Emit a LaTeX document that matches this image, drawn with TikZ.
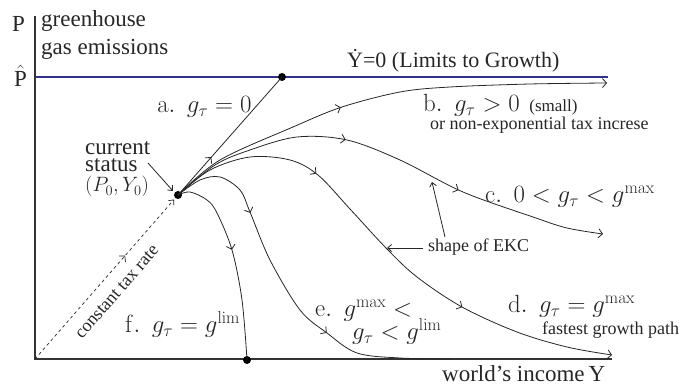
\documentclass[tikz,border=0pt]{standalone}
\usepackage[no-math]{fontspec}
\setmainfont{Liberation Serif}
\usetikzlibrary{decorations.markings,arrows.meta}
\tikzset{
  big/.style={font=\rmfamily\fontsize{23}{25}\selectfont, inner sep=0pt, text=black!85},
  small/.style={font=\rmfamily\fontsize{18}{20}\selectfont, inner sep=0pt, text=black!85},
  dot/.style={circle, fill=black, inner sep=0pt, minimum size=8pt},
  axis/.style={line width=2.4pt, draw=black!80},
  curve/.style={line width=0.8pt, draw=black!85},
  tipend/.style={-{Straight Barb[length=4pt,width=9pt]}},
  mk/.style={postaction={decorate}, decoration={markings, mark=at position #1 with {\arrow{Straight Barb[length=4pt,width=9pt]}}}},
  mktwo/.style 2 args={postaction={decorate}, decoration={markings,
     mark=at position #1 with {\arrow{Straight Barb[length=4pt,width=9pt]}},
     mark=at position #2 with {\arrow{Straight Barb[length=4pt,width=9pt]}}}},
  smallarrow/.style={line width=0.8pt, draw=black!85, -{Straight Barb[length=4pt,width=7pt]}},
}
\begin{document}
\begin{tikzpicture}[x=1pt,y=-1pt]
\useasboundingbox (0,0) rectangle (694,387);
% axes
\coordinate (O) at (35,359);
\coordinate (ytop) at (35,16);
\coordinate (xend) at (612,359);
\coordinate (bl) at (35,77);
\coordinate (br) at (608,77);
\draw[line width=1.5pt, draw={rgb,255:red,50;green,50;blue,140}] (bl) -- (br);
\draw[axis] (ytop) -- (O) -- (xend);
% dots
\node[dot] (cs) at (178,195) {};
\node[dot] (lim) at (282,77) {};
\node[dot] (flim) at (247,360) {};
% a
\draw[curve, mk=0.32] (cs.center) -- (lim.center);
% b
\draw[curve, tipend, mk=0.41] plot[smooth, tension=0.55] coordinates {(cs.center) (220,160) (293,127) (342,107) (400,92) (450,87) (530,84) (607,83)};
% c
\draw[curve, tipend, mktwo={0.40}{0.67}] plot[smooth, tension=0.55] coordinates {(cs.center) (215,165) (250,150) (297,137) (347,140) (400,160) (463,192) (533,217) (567,228) (603,234)};
% d
\draw[curve, tipend, mktwo={0.30}{0.69}] plot[smooth, tension=0.55] coordinates {(cs.center) (210,170) (250,157) (290,160) (318,175) (350,209) (387,249) (417,277) (462,307) (517,332) (567,347) (612,355)};
% e
\draw[curve, mktwo={0.26}{0.65}] plot[smooth, tension=0.55] coordinates {(cs.center) (200,180) (220,177) (240,190) (250,212) (270,260) (300,310) (327,333) (357,353) (400,358) (450,359)};
% f
\draw[curve, mk=0.44] plot[smooth, tension=0.55] coordinates {(cs.center) (190,192) (207,200) (217,213) (232,250) (242,300) (flim.center)};
% dashed
\draw[line width=0.7pt, dashed, draw=black!85, mk=0.63, -{Straight Barb[length=4pt,width=7pt]}, shorten >=6pt] (O) -- (cs.center);
% labels
\node[big, anchor=base west] (lp) at (12,32) {P};
\node[big, anchor=base west] (lgh) at (41,27) {greenhouse};
\node[big, anchor=base west] (lge) at (41,55) {gas emissions};
\node[big, anchor=base west] (lph) at (14,87) {$\hat{\mbox{P}}$};
\node[big, font=\rmfamily\fontsize{22}{24}\selectfont, anchor=base west] (lyd) at (347,68) {\.{Y}=0 (Limits to Growth)};
\node[big, anchor=base west] (la) at (157,113) {$\mathrm{a.}\ \ g_\tau = 0$};
\node[big, anchor=base west] (lb) at (423,112) {$\mathrm{b.}\ \ g_\tau > 0$\ \,{\fontsize{17}{19}\selectfont(small)}};
\node[small, anchor=base west] (lb2) at (430,130) {or non-exponential tax increse};
\node[big, anchor=base west] (lc) at (485,203) {$\mathrm{c.}\ \ 0 < g_\tau < g^{\max}$};
\node[big, anchor=base west] (ld) at (508,313) {$\mathrm{d.}\ \ g_\tau = g^{\max}$};
\node[small, anchor=base west] (ld2) at (542,335) {fastest growth path};
\node[small, anchor=base west] (lekc) at (428,252) {shape of EKC};
\node[big, anchor=base west] (le) at (315,317) {$\mathrm{e.}\ \ g^{\max} <$};
\node[big, anchor=base west] (le2) at (352,340) {$g_\tau < g^{\lim}$};
\node[big, anchor=base west] (lf) at (125,333) {$\mathrm{f.}\ \ g_\tau = g^{\lim}$};
\node[big, anchor=base west] (lx) at (442,382) {world's income\hspace{4pt}Y};
\node[big, anchor=base west] (lcs1) at (85,155) {current};
\node[big, anchor=base west] (lcs2) at (85,172) {status};
\node[inner sep=0pt, text=black!85, font=\fontsize{20.74}{22}\selectfont, anchor=base west] (lcs3) at (85,192) {$(P_0,Y_0)$};
\node[small, rotate=49] (lct) at (117,292) {constant tax rate};
% pointer arrows
\coordinate (csa) at (148,163);
\coordinate (csb) at (173,191);
\draw[smallarrow] (csa) -- (csb);
\coordinate (ekcd) at (387,248);
\coordinate (ekcc) at (432,182);
\coordinate (ekcs) at (445,237);
\coordinate (ekcl) at (423,248);
\draw[smallarrow] (ekcl) -- (ekcd);
\draw[smallarrow] (ekcs) -- (ekcc);
\end{tikzpicture}
\end{document}
